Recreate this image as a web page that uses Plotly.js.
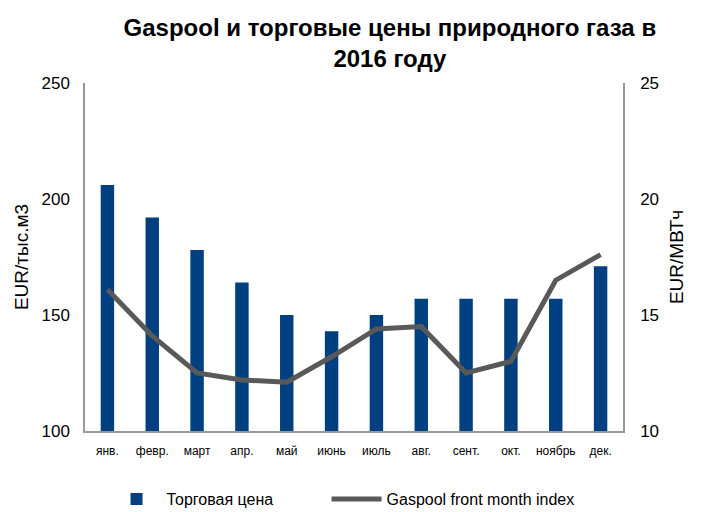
<!DOCTYPE html>
<html><head><meta charset="utf-8">
<script src="https://cdn.plot.ly/plotly-3.0.1.min.js"></script>
<style>body{margin:0;background:#fff}#c{width:705px;height:512px}</style>
</head><body><div id="c"></div>
<script>
const months = ["янв.","февр.","март","апр.","май","июнь","июль","авг.","сент.","окт.","ноябрь","дек."];
const tradePrice = [206, 192, 178, 164, 150, 143, 150, 157, 157, 157, 157, 171];
const gaspoolIndex = [16.1, 14.1, 12.5, 12.2, 12.1, 13.2, 14.4, 14.5, 12.5, 13.0, 16.5, 17.6];
const leftTicks = [100, 150, 200, 250];
const rightTicks = [10, 15, 20, 25];

const F = '"Liberation Sans", Arial, sans-serif';
const data = [
  {type:'bar', x: months, y: tradePrice, name:'Торговая цена', marker:{color:'#004080'}, width:0.3, yaxis:'y', legend:'legend'},
  {type:'scatter', mode:'lines', x: months, y: gaspoolIndex, name:'Gaspool front month index', line:{color:'#595959', width:5}, yaxis:'y2', legend:'legend2'}
];
const legendBase = {orientation:'h', xanchor:'left', xref:'paper', y:0.025, yanchor:'middle', yref:'container', font:{size:16, family:F}, itemwidth:50, bgcolor:'rgba(0,0,0,0)'};
const layout = {
  width:705, height:512,
  margin:{l:85, r:82, t:83, b:81, autoexpand:false},
  paper_bgcolor:'#fff', plot_bgcolor:'#fff',
  font:{family:F, color:'#000'},
  title:{text:'<b>Gaspool и торговые цены природного газа в<br>2016 году</b>', font:{size:24, family:F}, x:0.553, xanchor:'center', y:0.93, yanchor:'top', yref:'container'},
  showlegend:true,
  legend:Object.assign({}, legendBase, {x:0.04}),
  legend2:Object.assign({}, legendBase, {x:0.449}),
  xaxis:{showline:true, linecolor:'#999', linewidth:1.5, ticks:'', ticklabelstandoff:8, tickfont:{size:12, family:F}, showgrid:false},
  yaxis:{range:[100,250], tickvals:leftTicks, showline:true, linecolor:'#999', linewidth:1.5, showgrid:false, zeroline:false, ticks:'', ticklabelstandoff:10, tickfont:{size:17, family:F}, title:{text:'EUR/тыс.м3', font:{size:19, family:F}, standoff:8}},
  yaxis2:{range:[10,25], tickvals:rightTicks, overlaying:'y', side:'right', showline:true, linecolor:'#999', linewidth:1.5, showgrid:false, zeroline:false, ticks:'', ticklabelstandoff:12, tickfont:{size:17, family:F}, title:{text:'EUR/МВТч', font:{size:19, family:F}, standoff:12}}
};
Plotly.newPlot('c', data, layout, {displayModeBar:false});
</script></body></html>
